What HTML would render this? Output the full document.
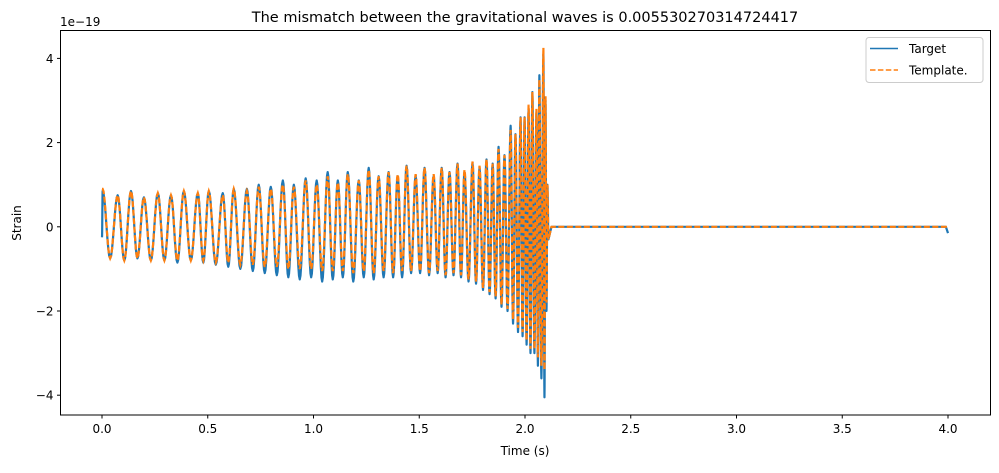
<!DOCTYPE html>
<html><head><meta charset="utf-8"><style>
body{margin:0;background:#fff;font-family:"Liberation Sans","DejaVu Sans",sans-serif}
svg text{font-family:"DejaVu Sans","Liberation Sans",sans-serif;fill:#000}
</style></head><body>
<svg id="chart" width="999" height="468" xmlns="http://www.w3.org/2000/svg">
<rect width="999" height="468" fill="#fff"/>
<g id="plot"></g>
<g id="axes"></g>
</svg>
<script>
// data: times of successive maxima (s), and the max and following min values (units of 1e-19)
const peakTimes=[0.003,0.074,0.137,0.198,0.264,0.326,0.387,0.453,0.505,0.571,0.623,0.685,0.741,0.798,0.855,0.907,0.963,1.015,1.067,1.115,1.162,1.214,1.261,1.308,1.355,1.398,1.440,1.483,1.525,1.568,1.606,1.643,1.681,1.714,1.752,1.785,1.818,1.847,1.875,1.903,1.932,1.955,1.979,1.998,2.017,2.035,2.054,2.068,2.087,2.097,2.106];
const targetMax=[0.85,0.75,0.85,0.7,0.8,0.75,0.85,0.8,0.85,0.8,0.9,0.9,1.0,0.95,1.1,1.0,1.15,1.1,1.3,1.1,1.3,1.1,1.4,1.2,1.3,1.2,1.45,1.2,1.4,1.2,1.4,1.3,1.5,1.3,1.5,1.4,1.6,1.5,1.9,1.7,2.4,2.2,2.6,2.6,2.8,3.2,2.7,3.6,4.1,3.0,1.0];
const targetMin=[-0.75,-0.8,-0.75,-0.8,-0.8,-0.85,-0.8,-0.85,-0.9,-0.95,-1.0,-1.05,-1.1,-1.15,-1.2,-1.25,-1.2,-1.3,-1.25,-1.2,-1.3,-1.2,-1.25,-1.2,-1.2,-1.2,-1.1,-1.1,-1.15,-1.1,-1.2,-1.15,-1.2,-1.3,-1.35,-1.5,-1.6,-1.7,-1.9,-2.0,-2.3,-2.5,-2.6,-2.8,-3.0,-3.0,-3.3,-3.6,-4.05,-2.0,-0.3];
const templateMax=[0.9,0.75,0.85,0.7,0.8,0.75,0.85,0.8,0.85,0.75,0.9,0.85,0.95,0.9,1.0,0.95,1.1,1.0,1.2,1.05,1.25,1.1,1.35,1.2,1.3,1.25,1.45,1.25,1.4,1.25,1.4,1.3,1.5,1.35,1.55,1.45,1.6,1.5,1.85,1.7,2.3,2.2,2.6,2.6,2.9,3.2,2.8,3.5,4.25,3.1,1.0];
const templateMin=[-0.75,-0.8,-0.75,-0.8,-0.8,-0.8,-0.8,-0.8,-0.85,-0.85,-0.9,-0.9,-0.95,-0.95,-1.0,-1.0,-1.0,-1.05,-1.05,-1.05,-1.1,-1.05,-1.1,-1.05,-1.1,-1.05,-1.05,-1.05,-1.1,-1.05,-1.15,-1.1,-1.15,-1.25,-1.3,-1.45,-1.55,-1.65,-1.85,-1.95,-2.2,-2.4,-2.5,-2.7,-2.9,-2.9,-3.1,-3.3,-3.4,-1.8,-0.3];
const xTicks=[0,0.5,1,1.5,2,2.5,3,3.5,4];
const xTickLabels=["0.0","0.5","1.0","1.5","2.0","2.5","3.0","3.5","4.0"];
const yTicks=[-4,-2,0,2,4];
const yTickLabels=["\u22124","\u22122","0","2","4"];

const L=60.5,R=990.5,T=30.5,B=415;
const X=t=>102+t*211.5;
const Y=v=>226.8-v*42.1;
const NS="http://www.w3.org/2000/svg";
function mk(tag,attrs,parent){const e=document.createElementNS(NS,tag);for(const k in attrs)e.setAttribute(k,attrs[k]);parent.appendChild(e);return e;}

function buildPath(maxs,mins,start,endVal){
  const ext=[];
  for(let i=0;i<peakTimes.length;i++){
    ext.push([peakTimes[i],maxs[i]]);
    const tn=i+1<peakTimes.length?(peakTimes[i]+peakTimes[i+1])/2:peakTimes[i]+0.005;
    ext.push([tn,mins[i]]);
  }
  let d="M"+X(0).toFixed(2)+","+Y(start).toFixed(2);
  for(let i=0;i<ext.length;i++){
    const a=i===0?[0,start]:ext[i-1],b=ext[i];
    for(let k=1;k<=8;k++){const f=k/8,w=(1-Math.cos(Math.PI*f))/2;
      d+=" L"+X(a[0]+(b[0]-a[0])*f).toFixed(2)+","+Y(a[1]+(b[1]-a[1])*w).toFixed(2);}
  }
  d+=" L"+X(2.125).toFixed(2)+","+Y(0).toFixed(2)+" L"+X(3.99).toFixed(2)+","+Y(0).toFixed(2)+" L"+X(4.0).toFixed(2)+","+Y(endVal).toFixed(2);
  return d;
}
const plot=document.getElementById('plot');
const tp=mk('path',{d:buildPath(targetMax,targetMin,-0.25,-0.15),fill:'none',stroke:'#1f77b4','stroke-width':2.2,'stroke-linejoin':'round'},plot);


const mp=mk('path',{d:buildPath(templateMax,templateMin,0.9,0),fill:'none',stroke:'#ff7f0e','stroke-width':2.2,'stroke-dasharray':'6,2.5'},plot);



const ax=document.getElementById('axes');
const fr=mk('rect',{x:L,y:T,width:R-L,height:B-T,fill:'none',stroke:'#000','stroke-width':1},ax);


xTicks.forEach((v,i)=>{
  mk('line',{x1:X(v),x2:X(v),y1:B,y2:B+3.5,stroke:'#000'},ax);
  const t=mk('text',{x:X(v),y:B+18,'font-size':12,'text-anchor':'middle'},ax);t.textContent=xTickLabels[i];
  
  
});
yTicks.forEach((v,i)=>{
  mk('line',{x1:L,x2:L-3.5,y1:Y(v),y2:Y(v),stroke:'#000'},ax);
  const t=mk('text',{x:L-7,y:Y(v)+4.5,'font-size':12,'text-anchor':'end'},ax);t.textContent=yTickLabels[i];
  
  
});
</script>
<svg style="position:absolute;left:0;top:0" width="999" height="468" xmlns="http://www.w3.org/2000/svg">
<text x="60" y="26" font-size="12">1e−19</text>
<text x="525" y="22" font-size="14.5" text-anchor="middle">The mismatch between the gravitational waves is 0.005530270314724417</text>
<text x="525" y="455" font-size="12" text-anchor="middle">Time (s)</text>
<text x="21" y="223" font-size="12" text-anchor="middle" transform="rotate(-90 21 223)">Strain</text>
<g>
<rect x="866" y="37.5" width="117" height="45" rx="3" fill="#fff" stroke="#ccc"/>
<line x1="870" y1="48.5" x2="898" y2="48.5" stroke="#1f77b4" stroke-width="1.5"/>
<text x="909" y="53" font-size="12">Target</text>
<line x1="870" y1="70" x2="898" y2="70" stroke="#ff7f0e" stroke-width="1.5" stroke-dasharray="5.5,2.4"/>
<text x="909" y="74.5" font-size="12">Template.</text>
</g>
</svg>
</body></html>
